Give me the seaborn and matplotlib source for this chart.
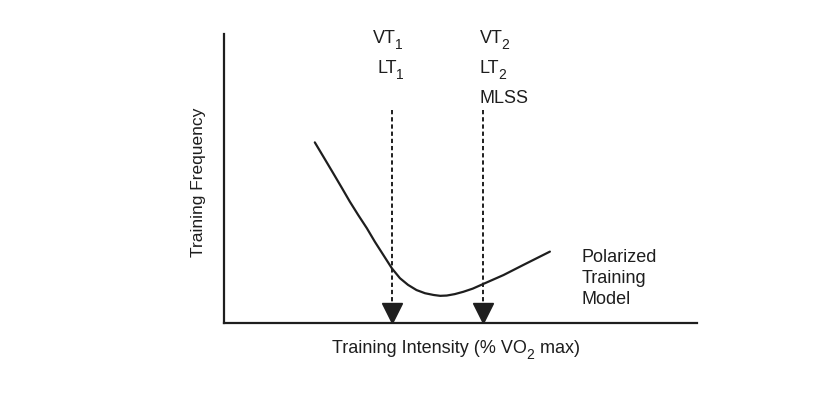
import matplotlib
matplotlib.use("Agg")
import matplotlib.pyplot as plt
import seaborn as sns
import pandas as pd

# Curve (0-100 scale on both axes)
intensity = [19.2, 21.1, 23.1, 24.9, 26.6, 28.4, 30.2, 31.9, 33.7, 35.5, 37.2, 38.9,
             40.7, 42.5, 44.3, 45.7, 47.1, 48.8, 50.6, 52.6, 54.8, 59.1, 63.3, 68.9]
frequency = [62.5, 57.3, 51.8, 46.8, 42.0, 37.3, 32.8, 28.1, 23.5, 18.9, 15.5, 13.2,
             11.4, 10.3, 9.7, 9.4, 9.5, 10.0, 10.8, 11.9, 13.5, 16.6, 20.1, 24.7]

# Threshold markers
threshold_x = [35.5, 54.8]
threshold_top = 73.7
labels_1 = [("VT", "1"), ("LT", "1")]
labels_2 = [("VT", "2"), ("LT", "2"), ("MLSS", "")]

sns.set_style("white")
plt.rcParams['font.family'] = ['Liberation Sans', 'DejaVu Sans']

ink = "#1e1e1e"
fs = 13
sub_fs = 10
df = pd.DataFrame({"Intensity": intensity, "Frequency": frequency})

fig = plt.figure(figsize=(8.36, 3.95), dpi=100)
ax = fig.add_axes([224 / 836, 1 - 323 / 395, 473 / 836, 289 / 395])

sns.lineplot(data=df, x="Intensity", y="Frequency", ax=ax, color=ink, linewidth=1.6)

# dashed arrows down to the x axis
for x in threshold_x:
    ax.plot([x, x], [threshold_top, 7], color=ink, linestyle=(0, (2.2, 1.5)), linewidth=1.4)
    ax.plot([x], [3.6], marker="v", markersize=14, color=ink, clip_on=False)

ax.set_xlim(0, 100)
ax.set_ylim(0, 100)
ax.set_xticks([])
ax.set_yticks([])
ax.set_xlabel("")
ax.set_ylabel("")
sns.despine(ax=ax)
for side in ["left", "bottom"]:
    ax.spines[side].set_color(ink)
    ax.spines[side].set_linewidth(1.6)


def label_with_sub(x, y, main, sub, tail="", kern=-0.8):
    t = ax.text(x, y, main, ha="left", va="baseline", fontsize=fs, color=ink, clip_on=False)
    if not sub:
        return t
    s = ax.annotate(sub, xy=(1, 0), xycoords=t, xytext=(kern, -3.6), textcoords="offset points",
                    ha="left", va="bottom", fontsize=sub_fs, color=ink)
    if tail:
        ax.annotate(tail, xy=(1, 0), xycoords=(s, t), xytext=(0, 0), textcoords="offset points",
                    ha="left", va="bottom", fontsize=fs, color=ink)
    return t


# threshold labels (left x in data units, baselines)
baselines = [96.9, 86.5, 76.1]
col1_x = [31.5, 32.4]
for (main, sub), x, y in zip(labels_1, col1_x, baselines):
    label_with_sub(x, y, main, sub)
for (main, sub), y in zip(labels_2, baselines):
    label_with_sub(54.1, y, main, sub)

# axis titles
label_with_sub(22.8, -10.4, "Training Intensity (% VO", "2", " max)", kern=0)
ax.text(-5.3, 48.8, "Training Frequency", rotation=90, ha="center", va="center",
        fontsize=12.5, color=ink, clip_on=False)

ax.text(75.6, 25.6, "Polarized\nTraining\nModel", ha="left", va="top",
        fontsize=fs, color=ink, linespacing=1.32)

plt.savefig("out.png", dpi=100)
